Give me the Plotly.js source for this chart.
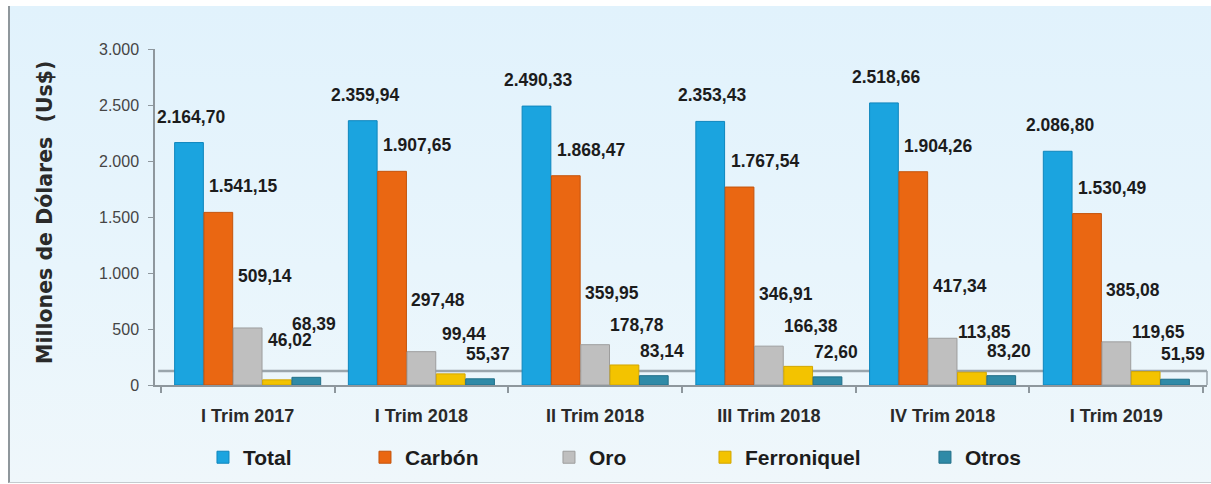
<!DOCTYPE html>
<html>
<head>
<meta charset="utf-8">
<script src="https://cdn.plot.ly/plotly-3.0.1.min.js"></script>
<style>
  html, body { margin: 0; padding: 0; background: #ffffff; width: 1211px; height: 484px; overflow: hidden; }
  #chart {
    position: absolute; left: 8px; top: 6px;
    width: 1201px; height: 476px;
    border-left: 2px solid #8f979c;
    border-bottom: 1px solid #c5cbcf;
    background: linear-gradient(to bottom, #e1f2fc 0%, #e8f5fc 55%, #eff7fb 100%);
  }
</style>
</head>
<body>
<div id="chart"></div>
<script>
// ---- data ----
const categories = ['I Trim 2017', 'I Trim 2018', 'II Trim 2018', 'III Trim 2018', 'IV Trim 2018', 'I Trim 2019'];
const seriesNames = ['Total', 'Carbón', 'Oro', 'Ferroniquel', 'Otros'];
const total       = [2164.70, 2359.94, 2490.33, 2353.43, 2518.66, 2086.80];
const carbon      = [1541.15, 1907.65, 1868.47, 1767.54, 1904.26, 1530.49];
const oro         = [509.14, 297.48, 359.95, 346.91, 417.34, 385.08];
const ferroniquel = [46.02, 99.44, 178.78, 166.38, 113.85, 119.65];
const otros       = [68.39, 55.37, 83.14, 72.60, 83.20, 51.59];
const yTickValues = [0, 500, 1000, 1500, 2000, 2500, 3000];

// ---- styles ----
const seriesValues = [total, carbon, oro, ferroniquel, otros];
const colors     = ['#1ba4df', '#ea6712', '#bfbfbf', '#f3c300', '#2f8aa7'];
const lineColors = ['#0f86bd', '#c4540c', '#9d9d9d', '#d2a600', '#226f88'];
const legendX = [0.0456, 0.1996, 0.3745, 0.5228, 0.7319];
const labelXShift = [2, 25, 17, 13, 8];     // px, label offset to the right of the bar
const labelYShift = [26, 26, 52, 40, 25];   // px, label centre above the bar top
const FONT = 'Liberation Sans, Arial, Helvetica, sans-serif';

const H = 476, M_T = 43, M_B = 95, Y_MAX = 3000;
const plotH = H - M_T - M_B;
const pxPerUnit = plotH / Y_MAX;
const LABEL_H = 15, LABEL_W = 50;

const bargap = 0.156;
const slot = (1 - bargap) / seriesNames.length;

function fmt(v) {
  const parts = v.toFixed(2).split('.');
  return parts[0].replace(/\B(?=(\d{3})+(?!\d))/g, '.') + ',' + parts[1];
}

const traces = seriesNames.map((name, j) => ({
  type: 'bar',
  name: name,
  x: categories,
  y: seriesValues[j],
  marker: { color: colors[j], line: { color: lineColors[j], width: 1 } },
  legend: j === 0 ? 'legend' : 'legend' + (j + 1),
  hoverinfo: 'x+y+name'
}));

const annotations = [];
categories.forEach((c, i) => {
  const placed = [];  // label centres (px) already placed in this group
  seriesValues.forEach((vals, j) => {
    const v = vals[i];
    const xPx = (j - (seriesNames.length - 1) / 2) * slot * 175 + labelXShift[j];
    let up = labelYShift[j];
    let moved = true;
    while (moved) {
      moved = false;
      const yc = v * pxPerUnit + up;
      for (const p of placed) {
        if (Math.abs(p.x - xPx) < LABEL_W && Math.abs(p.y - yc) < LABEL_H) {
          up = p.y + LABEL_H + 1 - v * pxPerUnit;
          moved = true;
        }
      }
    }
    placed.push({ x: xPx, y: v * pxPerUnit + up });
    annotations.push({
      x: i + (j - (seriesNames.length - 1) / 2) * slot,
      y: v,
      xref: 'x', yref: 'y',
      text: fmt(v),
      showarrow: false,
      xanchor: 'center', yanchor: 'middle',
      xshift: labelXShift[j],
      yshift: up,
      font: { family: FONT, size: 17.5, color: '#1c1c1c', weight: 'bold' }
    });
  });
});
annotations.push({
  xref: 'paper', yref: 'paper', x: 0, y: 0.512,
  xshift: -110,
  text: 'Millones de Dólares\u00a0\u00a0(Us$)',
  textangle: -90, showarrow: false,
  xanchor: 'center', yanchor: 'middle',
  font: { family: 'DejaVu Sans, Verdana, sans-serif', size: 20.5, color: '#2a2a2a', weight: 'bold' }
});

const legendBase = {
  orientation: 'h', xanchor: 'left', yanchor: 'middle', y: -0.216,
  bgcolor: 'rgba(0,0,0,0)', borderwidth: 0,
  font: { family: FONT, size: 21, color: '#1c1c1c', weight: 'bold' },
  itemclick: false, itemdoubleclick: false
};
const layout = {
  width: 1201, height: H,
  margin: { l: 145, r: 4, t: M_T, b: M_B, pad: 0 },
  paper_bgcolor: 'rgba(0,0,0,0)',
  plot_bgcolor: 'rgba(0,0,0,0)',
  separators: ',.',
  barmode: 'group',
  bargap: bargap,
  bargroupgap: 0.02,
  showlegend: true,
  xaxis: {
    type: 'category',
    showline: true, linecolor: '#8e979d', linewidth: 2,
    ticks: 'outside', tickson: 'boundaries', ticklen: 6, tickcolor: '#8e979d', tickwidth: 1.5,
    ticklabelstandoff: 13,
    tickfont: { family: FONT, size: 18, color: '#2a2a2a', weight: 'bold' },
    showgrid: false, zeroline: false, fixedrange: true
  },
  yaxis: {
    range: [0, Y_MAX],
    tickvals: yTickValues,
    tickformat: ',.0f',
    showline: true, linecolor: '#8e979d', linewidth: 1.5,
    ticks: 'outside', ticklen: 5, tickcolor: '#8e979d',
    ticklabelstandoff: 6,
    tickfont: { family: FONT, size: 16, color: '#454545' },
    showgrid: false, zeroline: false, fixedrange: true
  },
  shapes: [
    { type: 'line', layer: 'below', xref: 'paper', yref: 'y', x0: 0.003, x1: 1, y0: 124, y1: 124,
      line: { color: '#9aa5ac', width: 2.5 } },
    { type: 'line', layer: 'below', xref: 'paper', yref: 'y', x0: 1, x1: 1, y0: 0, y1: 124,
      line: { color: '#9aa5ac', width: 1.5 } }
  ],
  annotations: annotations,
  legend:  Object.assign({}, legendBase, { x: legendX[0] }),
  legend2: Object.assign({}, legendBase, { x: legendX[1] }),
  legend3: Object.assign({}, legendBase, { x: legendX[2] }),
  legend4: Object.assign({}, legendBase, { x: legendX[3] }),
  legend5: Object.assign({}, legendBase, { x: legendX[4] })
};

Plotly.newPlot('chart', traces, layout, { displayModeBar: false, responsive: false });
</script>
</body>
</html>
